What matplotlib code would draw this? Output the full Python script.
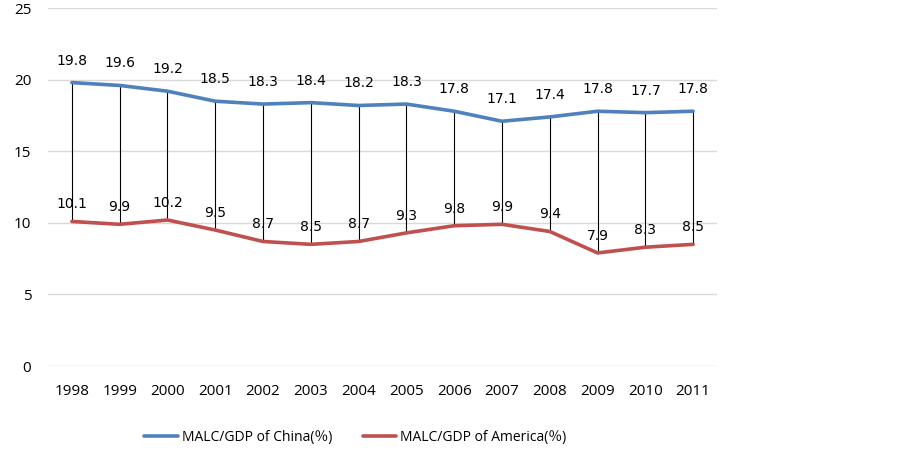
import numpy as np
import matplotlib
matplotlib.use("Agg")
import matplotlib.pyplot as plt

# ----------------------------------------------------------------------
#                                Data
# ----------------------------------------------------------------------

years = ["1998", "1999", "2000", "2001", "2002", "2003", "2004",
         "2005", "2006", "2007", "2008", "2009", "2010", "2011"]

china = [19.8, 19.6, 19.2, 18.5, 18.3, 18.4, 18.2,
         18.3, 17.8, 17.1, 17.4, 17.8, 17.7, 17.8]

america = [10.1, 9.9, 10.2, 9.5, 8.7, 8.5, 8.7,
           9.3, 9.8, 9.9, 9.4, 7.9, 8.3, 8.5]

china_label = "MALC/GDP of China(％)"
america_label = "MALC/GDP of America(％)"

# ----------------------------------------------------------------------
#                                Style
# ----------------------------------------------------------------------

plt.rcParams['font.family'] = ['Open Sans', 'Noto Sans CJK SC', 'DejaVu Sans']
blue = "#4F81BD"
red = "#C0504D"

fig = plt.figure(figsize=(9.02, 4.53), dpi=100)
ax = fig.add_axes([0.0532, 0.192, 0.7417, 0.790])

x = np.arange(len(years))

# high-low lines between the two series
ax.vlines(x, america, china, color="black", linewidth=0.8, zorder=2)

ax.plot(x, china, color=blue, linewidth=2.6, label=china_label, zorder=3,
        solid_capstyle="round")
ax.plot(x, america, color=red, linewidth=2.6, label=america_label, zorder=3,
        solid_capstyle="round")

for xi, v in zip(x, china):
    ax.annotate(f"{v:.1f}", (xi, v), xytext=(0, 22), textcoords="offset pixels",
                ha="center", va="center", fontsize=10, family="DejaVu Sans")
for xi, v in zip(x, america):
    ax.annotate(f"{v:.1f}", (xi, v), xytext=(0, 17), textcoords="offset pixels",
                ha="center", va="center", fontsize=10, family="DejaVu Sans")

ax.set_xlim(-0.5, len(years) - 0.5)
ax.set_ylim(0, 25)
ax.set_yticks([0, 5, 10, 15, 20, 25])
ax.set_xticks(x)
ax.set_xticklabels(years)

ax.grid(axis="y", color="#D9D9D9", linewidth=1)
ax.set_axisbelow(True)
for s in ax.spines.values():
    s.set_visible(False)
ax.tick_params(length=0, labelsize=11)
ax.tick_params(axis="x", pad=13)
ax.tick_params(axis="y", pad=12)

fig.legend(loc="center", bbox_to_anchor=(0.394, 0.035), ncol=2, frameon=False,
           fontsize=10, handlelength=2.4, columnspacing=2.2, handletextpad=0.3)

fig.savefig("out.png", dpi=100)
